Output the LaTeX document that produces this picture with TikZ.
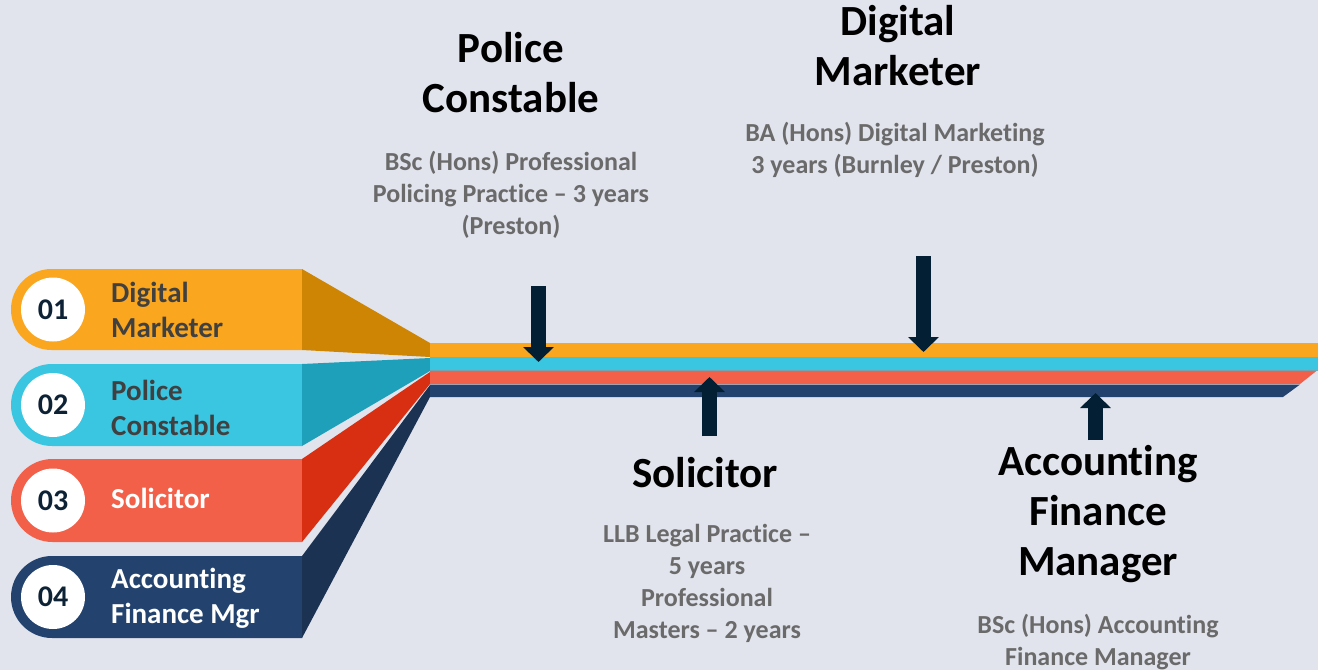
\documentclass[tikz,border=0pt]{standalone}
\usepackage{fontspec}
\setmainfont{Carlito}[Ligatures=NoCommon]
\usetikzlibrary{arrows.meta}

\definecolor{bg}{HTML}{E1E4ED}
\definecolor{orangeA}{HTML}{FAA61E}
\definecolor{orangeB}{HTML}{CE8504}
\definecolor{cyanA}{HTML}{3AC5E1}
\definecolor{cyanB}{HTML}{1FA0BA}
\definecolor{redA}{HTML}{F2604A}
\definecolor{redB}{HTML}{D82F12}
\definecolor{navyA}{HTML}{23436E}
\definecolor{navyB}{HTML}{1C3253}
\definecolor{arrowcol}{HTML}{021F33}
\definecolor{labelgray}{HTML}{404040}
\definecolor{subgray}{HTML}{6A6A6A}
\definecolor{numcol}{HTML}{0E2236}

\begin{document}
\begin{tikzpicture}[x=1pt,y=-1pt,
    heading/.style={font=\fontsize{43}{50}\selectfont\bfseries, align=center, anchor=base, inner sep=0pt},
    subtext/.style={font=\fontsize{26}{32}\selectfont\bfseries, text=subgray, align=center, anchor=base, inner sep=0pt},
    tablabel/.style={font=\fontsize{29}{35}\selectfont\bfseries, align=left, anchor=base west, inner sep=0pt},
    numcircle/.style={circle, fill=white, minimum size=64pt, inner sep=0pt, text=numcol, font=\fontsize{30}{32}\selectfont\bfseries},
    pointer/.style={draw=arrowcol, line width=15pt, -{Triangle[length=15pt,width=30pt]}}]

		\useasboundingbox (0,0) rectangle (1318,670);
		\fill [bg] (0,0) rectangle (1318,670);

		% left tabs
		\fill [orangeA] (302,269) [rounded corners=40.5pt] -- (11,269) -- (11,350) [sharp corners] -- (302,350) -- cycle;
		\fill [cyanA] (302,364) [rounded corners=41pt] -- (11,364) -- (11,446) [sharp corners] -- (302,446) -- cycle;
		\fill [redA] (302,459) [rounded corners=41.5pt] -- (11,459) -- (11,542) [sharp corners] -- (302,542) -- cycle;
		\fill [navyA] (302,556) [rounded corners=41pt] -- (11,556) -- (11,638) [sharp corners] -- (302,638) -- cycle;

		% folds
		\fill [orangeB] (302,269) -- (430,343) -- (430,357) -- (302,350) -- cycle;
		\fill [cyanB] (302,364) -- (430,358) -- (430,371) -- (302,446) -- cycle;
		\fill [redB] (302,459) -- (430,372) -- (430,384) -- (302,542) -- cycle;
		\fill [navyB] (302,556) -- (430,385) -- (430,397) -- (302,638) -- cycle;

		% stripes
		\fill [orangeA] (430,343) -- (1318,343) -- (1318,357) -- (430,357) -- cycle;
		\fill [cyanA] (430,357) -- (1318,357) -- (1318,370.5) -- (430,370.5) -- cycle;
		\fill [redA] (430,370.5) -- (1317,370.5) -- (1300,384) -- (430,384) -- cycle;
		\fill [navyA] (430,384.5) -- (1300,384.5) -- (1283,397) -- (430,397) -- cycle;

		\node [numcircle] (n1) at (53,309.5) {01};
		\node [numcircle] (n2) at (53,405) {02};
		\node [numcircle] (n3) at (53,500.5) {03};
		\node [numcircle] (n4) at (53,597) {04};

		% base = last line
		\node [tablabel, text=labelgray] (t1) at (111,337) {Digital\\Marketer};
		\node [tablabel, text=labelgray] (t2) at (111,435) {Police\\Constable};
		\node [tablabel, text=white] (t3) at (111,508) {Solicitor};
		\node [tablabel, text=white] (t4) at (111,623) {Accounting\\Finance Mgr};

		% headings and courses
		\node [heading] (pc) at (511,112) {Police\\Constable};
		\node [subtext] (pcSub) at (511,234) {BSc (Hons) Professional\\Policing Practice – 3 years\\(Preston)};
		\node [heading] (dm) at (898,85) {Digital\\Marketer};
		\node [subtext] (dmSub) at (895,173) {BA (Hons) Digital Marketing\\3 years (Burnley / Preston)};
		\node [heading] (so) at (705,487) {Solicitor};
		\node [subtext] (soSub) at (707,638) {LLB Legal Practice –\\5 years\\Professional\\Masters – 2 years};
		\node [heading] (af) at (1098,575) {Accounting\\Finance\\Manager};
		\node [subtext] (afSub) at (1098,665) {BSc (Hons) Accounting\\Finance Manager};

		% pointers
		\coordinate (pcTop) at (538.5,286);
		\coordinate (pcTip) at (538.5,362);
		\coordinate (dmTop) at (923.5,256);
		\coordinate (dmTip) at (923.5,352);
		\coordinate (soBot) at (709.5,436);
		\coordinate (soTip) at (709.5,377);
		\coordinate (afBot) at (1095.5,440);
		\coordinate (afTip) at (1095.5,393);
		\draw [pointer] (pcTop)--(pcTip);
		\draw [pointer] (dmTop)--(dmTip);
		\draw [pointer] (soBot)--(soTip);
		\draw [pointer] (afBot)--(afTip);
\end{tikzpicture}
\end{document}
